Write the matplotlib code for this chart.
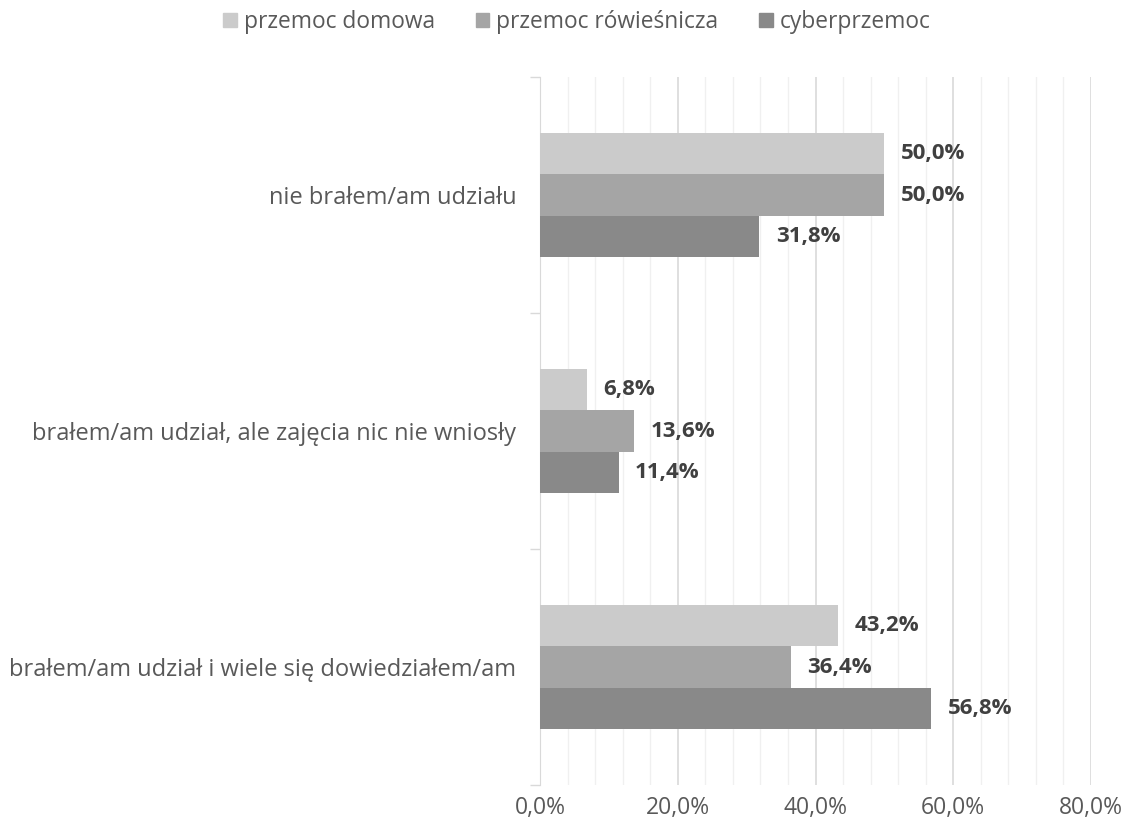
import matplotlib
matplotlib.use("Agg")
import matplotlib.pyplot as plt
import numpy as np
from matplotlib.ticker import MultipleLocator, FuncFormatter

categories = ["nie brałem/am udziału",
              "brałem/am udział, ale zajęcia nic nie wniosły",
              "brałem/am udział i wiele się dowiedziałem/am"]
series_names = ["przemoc domowa", "przemoc rówieśnicza", "cyberprzemoc"]
values = {
    "przemoc domowa": [50.0, 6.8, 43.2],
    "przemoc rówieśnicza": [50.0, 13.6, 36.4],
    "cyberprzemoc": [31.8, 11.4, 56.8],
}
colors = ["#CBCBCB", "#A5A5A5", "#898989"]

plt.rcParams['font.family'] = ['Open Sans', 'DejaVu Sans']
fig = plt.figure(figsize=(11.26, 8.33), dpi=100)
ax = fig.add_axes([540/1126, 1-785/833, (1091-540)/1126, (785-77)/833])

bh = 0.176
y = np.arange(len(categories))
for i, name in enumerate(series_names):
    pos = y + (i - 1) * bh
    bars = ax.barh(pos, values[name], height=bh, color=colors[i], zorder=3)
    for b, v in zip(bars, values[name]):
        ax.annotate(f"{v:.1f}%".replace(".", ","), (v, b.get_y() + b.get_height()/2),
                    xytext=(12, 0), textcoords="offset points", va="center", ha="left",
                    fontsize=16, fontweight="bold", color="#404040")

ax.set_xlim(0, 80)
ax.set_ylim(len(categories) - 0.5, -0.5)
ax.xaxis.set_major_locator(MultipleLocator(20))
ax.xaxis.set_minor_locator(MultipleLocator(4))
ax.xaxis.set_major_formatter(FuncFormatter(lambda x, p: f"{x:.1f}%".replace(".", ",")))
ax.grid(axis="x", which="major", color="#D9D9D9", linewidth=1.2, zorder=0)
ax.grid(axis="x", which="minor", color="#F0F0F0", linewidth=1.0, zorder=0)
ax.tick_params(axis="x", which="both", length=0, pad=8, labelsize=16.5, labelcolor="#595959")

ax.set_yticks(y)
ax.set_yticklabels(categories)
ax.set_yticks([-0.5, 0.5, 1.5, 2.5], minor=True)
ax.tick_params(axis="y", which="major", length=0, pad=17, labelsize=17, labelcolor="#595959")
ax.tick_params(axis="y", which="minor", length=7, color="#D9D9D9", width=1)
for s in ["top", "right", "bottom"]:
    ax.spines[s].set_visible(False)
ax.spines["left"].set_color("#D9D9D9")

handles = [plt.Rectangle((0, 0), 1, 1, color=c) for c in colors]
fig.legend(handles, series_names, loc="center", bbox_to_anchor=(577/1126, 1-22/833),
           ncol=3, frameon=False, fontsize=16.4, labelcolor="#595959",
           handlelength=0.6, handleheight=0.6, handletextpad=0.3, columnspacing=1.8)

fig.savefig("out.png", dpi=100, facecolor="white")
